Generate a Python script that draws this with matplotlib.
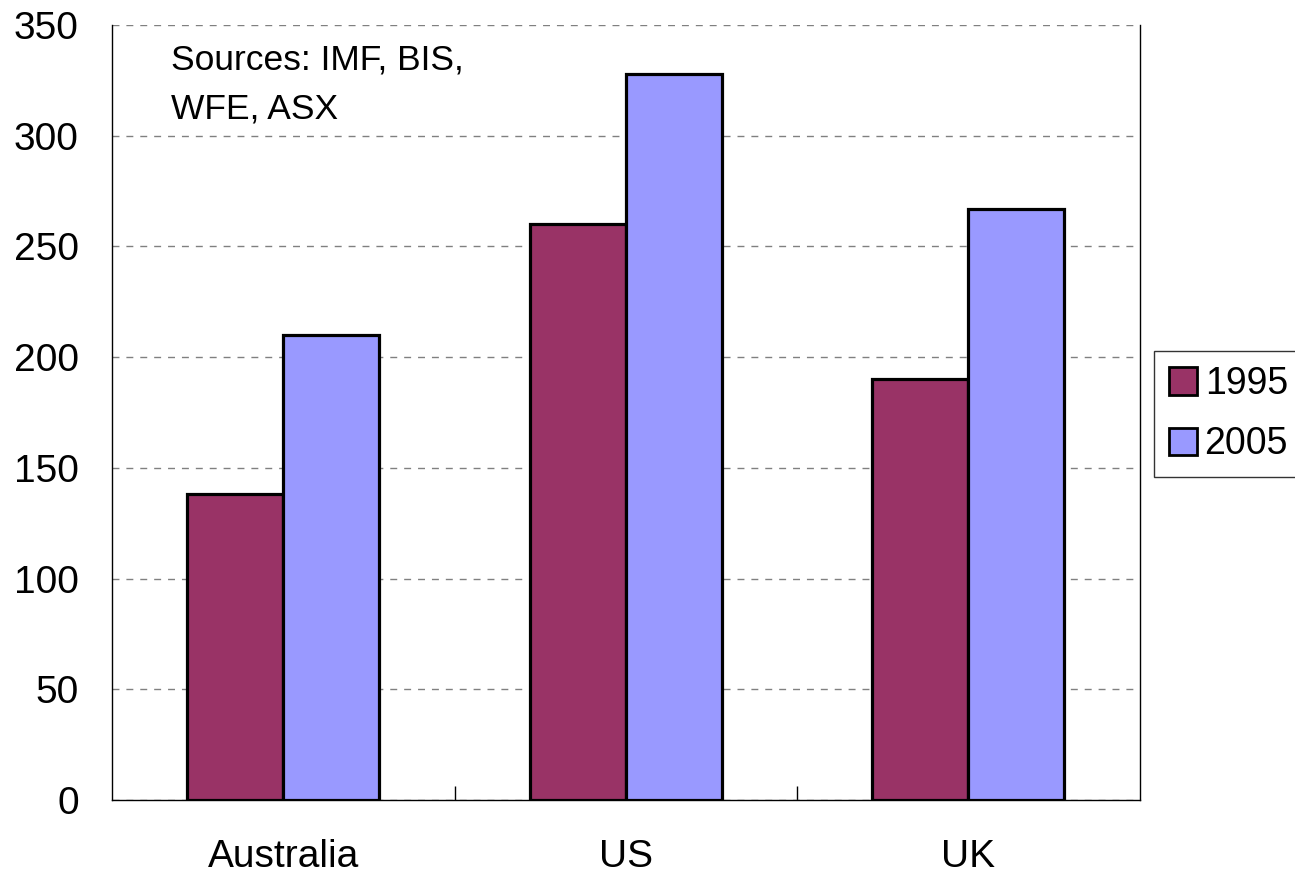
import numpy as np
import matplotlib.pyplot as plt
from matplotlib.patches import Patch

plt.rcParams['font.family'] = ['Liberation Sans', 'DejaVu Sans']

countries = ['Australia', 'US', 'UK']
years = ['1995', '2005']
vals_1995 = [138, 260, 190]
vals_2005 = [210, 328, 267]
colors = ['#993366', '#9999FF']

fig = plt.figure(figsize=(12.95, 8.74), dpi=100)
ax = fig.add_axes([0.0865, 0.0847, 0.7935, 0.8867])

x = np.arange(len(countries))
w = 0.28
ax.bar(x - w / 2, vals_1995, w, color=colors[0], edgecolor='black', linewidth=2.3, zorder=3)
ax.bar(x + w / 2, vals_2005, w, color=colors[1], edgecolor='black', linewidth=2.3, zorder=3)

ax.set_xlim(-0.5, 2.5)
ax.set_ylim(0, 350)
ax.set_yticks(range(0, 351, 50))
ax.yaxis.grid(True, linestyle=(0, (5, 5)), color='#808080', linewidth=1)
ax.set_axisbelow(True)

# category labels in the middle, small ticks between groups
ax.set_xticks(x)
ax.set_xticklabels(countries, fontsize=28)
ax.tick_params(axis='x', length=0, pad=28)
ax.set_xticks([0.5, 1.5], minor=True)
ax.tick_params(axis='x', which='minor', direction='in', length=10, width=1)
ax.tick_params(axis='y', length=0, labelsize=28, pad=24)

ax.spines['top'].set_visible(False)
for s in ['left', 'right', 'bottom']:
    ax.spines[s].set_linewidth(1)

ax.text(0.057, 0.976, 'Sources: IMF, BIS,\nWFE, ASX', transform=ax.transAxes,
        fontsize=25.5, va='top', ha='left', linespacing=1.6)

handles = [Patch(facecolor=c, edgecolor='black', linewidth=2) for c in colors]
fig.legend(handles, years, loc='upper left', bbox_to_anchor=(1154 / 1295, 1 - 351 / 874),
           fontsize=27, frameon=True, fancybox=False, edgecolor='black',
           handlelength=0.75, handleheight=0.75, handletextpad=0.2,
           borderpad=0.4, labelspacing=0.65, borderaxespad=0)

fig.savefig('out.png', dpi=100)
